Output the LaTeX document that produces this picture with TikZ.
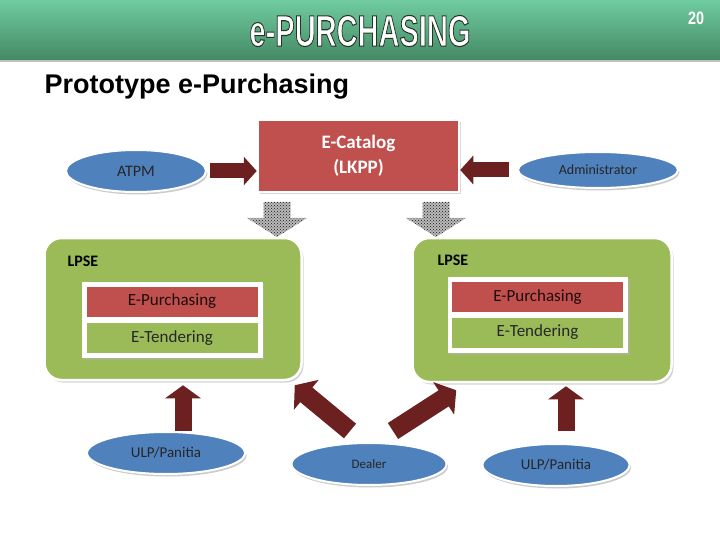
\documentclass[tikz,border=0pt]{standalone}
\usepackage{fontspec}
\setmainfont{Carlito}
\newfontfamily\arialfont{Liberation Sans}
\usepackage{graphicx}
\usepackage{tikz}
\usetikzlibrary{positioning,shapes.geometric,shadows,patterns,arrows.meta}

\definecolor{hdtop}{RGB}{112,204,160}
\definecolor{hdbot}{RGB}{68,136,100}
\definecolor{boxred}{RGB}{192,80,77}
\definecolor{ovalblue}{RGB}{79,129,189}
\definecolor{lpsegreen}{RGB}{155,187,89}
\definecolor{arrowred}{RGB}{108,32,32}
% outlined text: fill + stroke
\newcommand{\outlined}[1]{\special{pdf:literal direct 2 Tr 1.1 w 0.15 0.2 0.15 RG}#1\special{pdf:literal direct 0 Tr}}

\begin{document}
\begin{tikzpicture}[x=1pt,y=-1pt,
  actor/.style={ellipse,fill=ovalblue,draw=white,line width=2pt,inner sep=0pt,
    drop shadow={shadow xshift=1.5pt,shadow yshift=-2.5pt,fill=black!40},text=black!85},
  catbox/.style={rectangle,fill=boxred,draw=white,line width=2.5pt,
    drop shadow={shadow xshift=2pt,shadow yshift=-2pt,fill=black!30},
    text=white,align=center,font=\fontsize{19}{25}\selectfont\bfseries},
  lpse/.style={rectangle,rounded corners=17pt,fill=lpsegreen,draw=white,line width=2.5pt,
    drop shadow={shadow xshift=2pt,shadow yshift=-2.5pt,fill=black!35}},
  frame/.style={rectangle,fill=white,inner sep=0pt,
    drop shadow={shadow xshift=1.5pt,shadow yshift=-1.5pt,fill=black!30}},
  strip/.style={rectangle,inner sep=0pt,minimum width=171pt,minimum height=30pt,
    font=\fontsize{17}{20}\selectfont},
  bigarrow/.style={draw=arrowred,line width=15pt,-{Triangle[length=13pt,width=28pt]}},
  uparrow/.style={draw=arrowred,line width=17pt,-{Triangle[length=13pt,width=35pt]}},
  dropdown/.pic={
    \path[preaction={fill=gray!55},pattern=crosshatch dots,pattern color=black!90]
      (-13.5,0) -- (13.5,0) -- (13.5,16) -- (30,16) -- (0,35) -- (-30,16) -- (-13.5,16) -- cycle;
  }]
  \useasboundingbox (0,0) rectangle (720,540);

  % header
  \shade[top color=hdtop,bottom color=hdbot] (0,0) rectangle (720,60);
  \fill[black!25] (0,60) rectangle (720,62);
  \node[text=white] (title) at (360,31)
    {\arialfont\bfseries\fontsize{44}{44}\selectfont\scalebox{0.66}[1]{\outlined{e-PURCHASING}}};
  \node[text=white] (pgnum) at (696,18)
    {\arialfont\bfseries\fontsize{18}{18}\selectfont\scalebox{0.8}[1]{20}};
  \node[anchor=west] (sub) at (41,87)
    {\arialfont\bfseries\fontsize{27}{27}\selectfont Prototype e-Purchasing};

  % top row
  \node[catbox,minimum width=201pt,minimum height=72pt] (cat) at (358.5,156) {E-Catalog\\(LKPP)};
  \node[actor,minimum width=140pt,minimum height=42pt,font=\fontsize{16}{16}\selectfont] (atpm) at (136,171) {ATPM};
  \node[actor,minimum width=160pt,minimum height=36pt,font=\fontsize{14}{14}\selectfont] (admin) at (598,170) {Administrator};

  % LPSE blocks
  \node[lpse,minimum width=257pt,minimum height=142pt] (lpse1) at (173,309) {};
  \node[lpse,minimum width=259pt,minimum height=144pt] (lpse2) at (542,310) {};
  \node[anchor=west,font=\fontsize{16}{16}\selectfont\bfseries] (lab1) at (64,261) {LPSE};
  \node[anchor=west,font=\fontsize{16}{16}\selectfont\bfseries] (lab2) at (434,260) {LPSE};

  \node[frame,minimum width=181pt,minimum height=76pt] (fr1) at (172,320) {};
  \node[strip,fill=boxred,text=black!85!boxred] (pur1) at (172,301.5) {E-Purchasing};
  \node[strip,fill=lpsegreen,text=black!85] (ten1) at (172,338) {E-Tendering};
  \node[frame,minimum width=180pt,minimum height=76pt] (fr2) at (538,315) {};
  \node[strip,fill=boxred,text=black!85!boxred] (pur2) at (537.5,297) {E-Purchasing};
  \node[strip,fill=lpsegreen,text=black!85] (ten2) at (537.5,332.5) {E-Tendering};

  % bottom row
  \node[actor,minimum width=158pt,minimum height=42pt,font=\fontsize{15}{15}\selectfont] (ulp1) at (166,453) {ULP/Panitia};
  \node[actor,minimum width=155pt,minimum height=42pt,font=\fontsize{13}{13}\selectfont] (dealer) at (369,464) {Dealer};
  \node[actor,minimum width=147pt,minimum height=42pt,font=\fontsize{15}{15}\selectfont] (ulp2) at (556,465) {ULP/Panitia};

  % arrows
  \draw[bigarrow] ([xshift=3pt]atpm.east) -- (atpm.east -| cat.west);
  \draw[bigarrow] ([xshift=-8pt]admin.west) -- (admin.west -| cat.east);
  \pic at (277,202) {dropdown};
  \pic at (436,202) {dropdown};
  \draw[uparrow] ([xshift=17pt]ulp1.north) -- ([xshift=17pt,yshift=-4pt]ulp1.north |- lpse1.south);
  \draw[uparrow] ([xshift=10pt,yshift=12pt]ulp2.north) -- ([xshift=10pt,yshift=-3pt]ulp2.north |- lpse2.south);
  \draw[uparrow,line width=19pt,-{Triangle[length=15pt,width=38pt]}] ([xshift=-19pt,yshift=11pt]dealer.north) -- ([xshift=-8pt,yshift=-4pt]lpse1.south east);
  \draw[uparrow,line width=19pt,-{Triangle[length=15pt,width=38pt]}] ([xshift=24pt,yshift=11pt]dealer.north) -- ([xshift=45pt,yshift=-7pt]lpse2.south west);
\end{tikzpicture}
\end{document}
